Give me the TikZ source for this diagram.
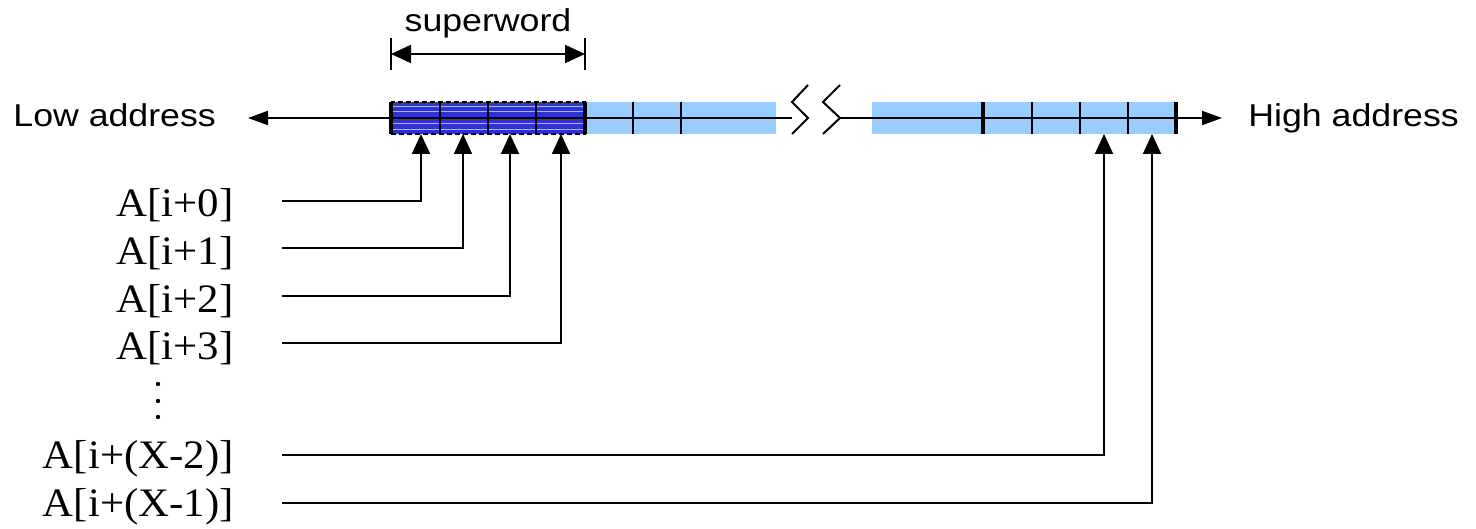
\documentclass[tikz,border=0pt]{standalone}
\usepackage{fontspec}
\setmainfont[FakeStretch=1.06]{Liberation Serif}
\setsansfont[FakeStretch=1.13]{Liberation Sans}
\usetikzlibrary{arrows.meta,calc}
\definecolor{wordblue}{RGB}{51,51,204}
\definecolor{stripe}{RGB}{150,185,255}
\definecolor{memblue}{RGB}{153,204,255}
\tikzset{
  >={Triangle[length=10pt,width=9pt]},
  axistip/.style={-{Triangle[length=10pt,width=7pt]}},
  addr/.style={font=\sffamily\fontsize{15.8}{18}\selectfont,inner sep=0pt},
  elem/.style={font=\fontsize{20.2}{24}\selectfont,inner sep=0pt,anchor=base east},
  wire/.style={line width=1pt},
  cellsep/.style={line width=1pt},
  cellend/.style={line width=1.6pt},
}

\begin{document}
\begin{tikzpicture}[x=0.5pt,y=-0.5pt]
  \useasboundingbox (0,0) rectangle (1476,529);

  % memory strip: superword part, then plain words
  \fill[wordblue] (391,102) rectangle (585,134);
  \foreach \y in {106.5,112,124,129.5}
    \draw[stripe,line width=0.5pt] (391,\y) -- (585,\y);
  \fill[memblue] (585,102) rectangle (776,134);
  \fill[memblue] (872,102) rectangle (1176,134);

  % address axis
  \coordinate (barL) at (391,118);
  \coordinate (gapL) at (792,118);
  \coordinate (gapR) at (840,118);
  \coordinate (lowtip) at (248,118);
  \coordinate (hightip) at (1222,118);
  \draw[wire] (barL) -- (gapL);
  \draw[wire,axistip] (barL) -- (lowtip);
  \draw[wire,axistip] (gapR) -- (hightip);
  % break marks
  \draw[wire] (808,85) -- (792,102) -- (808,118) -- (792,134);
  \draw[wire] (840,85) -- (823,102) -- (840,118) -- (823,134);

  % word boundaries
  \foreach \x in {440,488,536,633,681,1032,1080,1128}
    \draw[cellsep] (\x,102) -- (\x,134);
  \foreach \x in {391,585,1176}
    \draw[cellend] (\x,102) -- (\x,134);
  \draw[line width=2.2pt] (983,102) -- (983,134);
  \draw[line width=0.8pt,dash pattern=on 2.5pt off 1.5pt] (391,102) rectangle (585,134);

  \node[addr,anchor=base west] (low) at (13,127) {Low address};
  \node[addr,anchor=base west] (high) at (1248,127) {High address};

  % superword span
  \draw[wire] (391,38) -- (391,70);
  \draw[wire] (585,38) -- (585,70);
  \coordinate (swL) at (391,54);
  \coordinate (swR) at (585,54);
  \draw[wire,<->] (swL) -- (swR);
  \node[addr,anchor=base] (sw) at (488,32) {superword};

  % element targets under the strip
  \coordinate (w1) at (421,134);
  \coordinate (w2) at (463,134);
  \coordinate (w3) at (510,134);
  \coordinate (w4) at (561,134);
  \coordinate (h3) at (1104,134);
  \coordinate (h4) at (1152,134);

  % element labels
  \foreach \t/\y/\b [count=\k] in {{A[i+0]}/201/217,{A[i+1]}/248/264.5,
      {A[i+2]}/296/312,{A[i+3]}/343/359.5,{A[i+(X-2)]}/455/468,{A[i+(X-1)]}/503/516}{
    \node[elem] (lbl\k) at (234,\b) {\t};
    \coordinate (src\k) at (282,\y);
  }
  \foreach \y in {384,401,417}
    \fill (158,\y) circle (1.1pt);

  \foreach \s/\t in {1/w1,2/w2,3/w3,4/w4,5/h3,6/h4}
    \draw[wire,->] (src\s) -| (\t);
\end{tikzpicture}
\end{document}
